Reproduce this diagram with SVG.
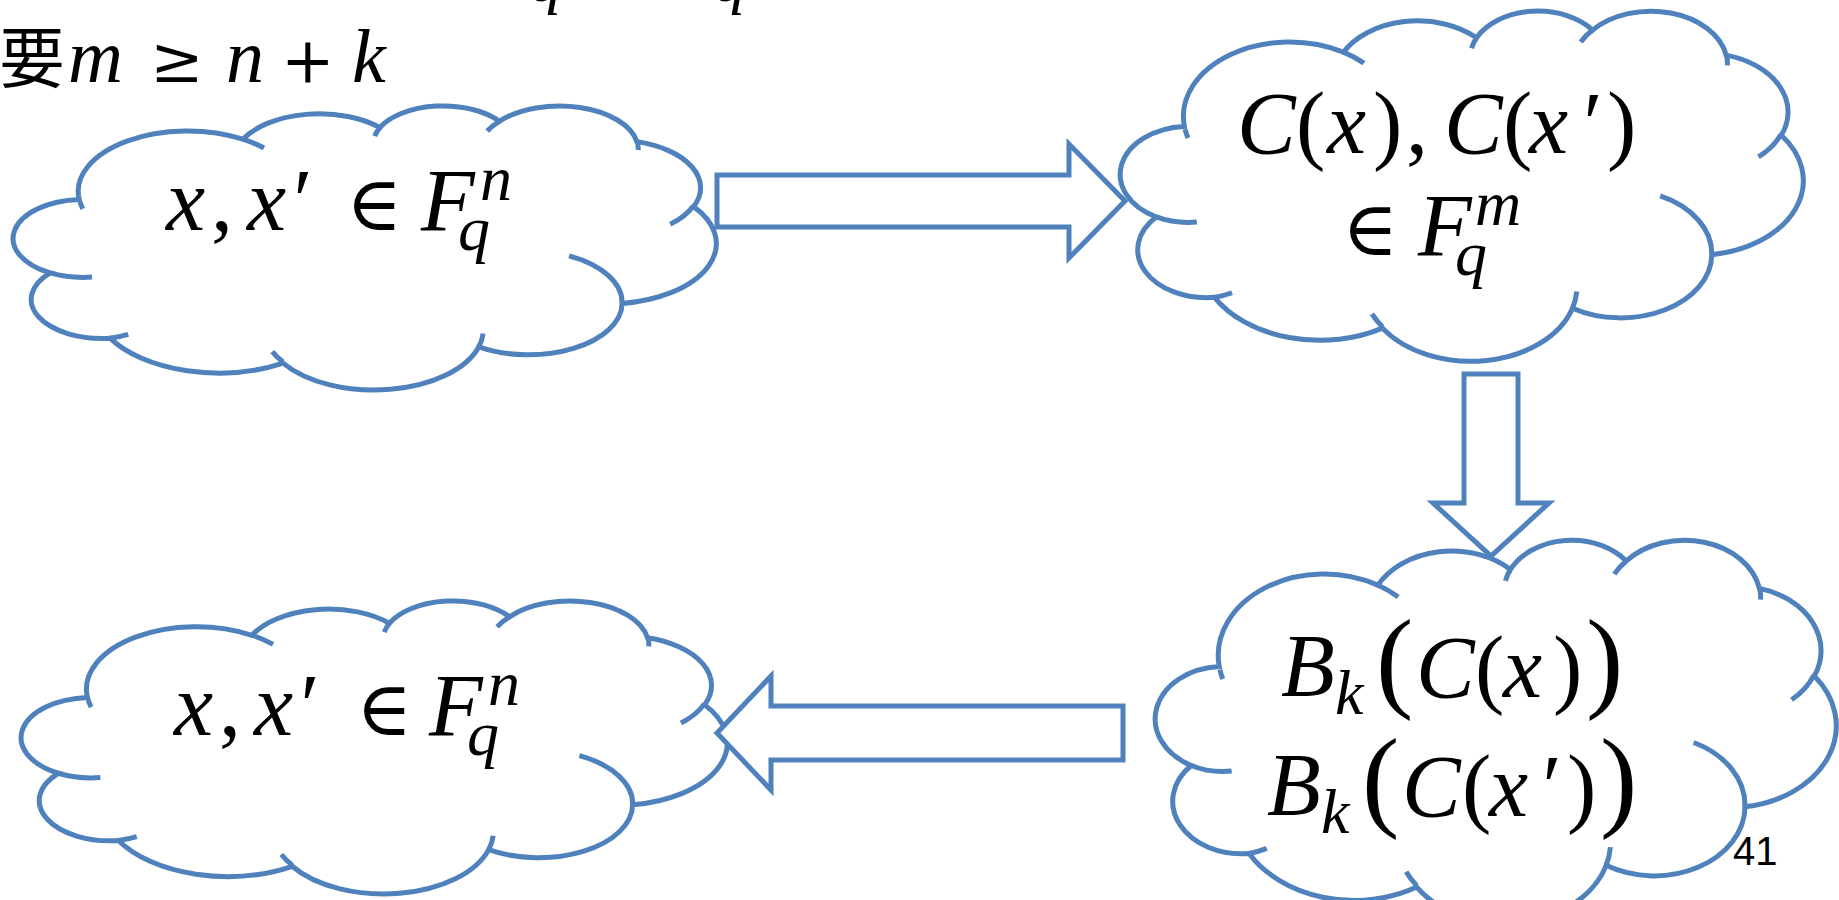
<svg xmlns="http://www.w3.org/2000/svg" width="1839" height="900" viewBox="0 0 1839 900">
<style>
.cl{fill:#fff;stroke:#4F81BD;stroke-width:5;vector-effect:non-scaling-stroke}
.ci{fill:none;stroke:#4F81BD;stroke-width:5;vector-effect:non-scaling-stroke}
.ar{fill:#fff;stroke:#4F81BD;stroke-width:5;stroke-linejoin:miter}
.m{font-family:"Liberation Serif",serif;font-style:italic;font-size:88px;fill:#000}
.u{font-style:normal}
.s{font-size:64px}
.e{font-family:"DejaVu Serif",serif;font-style:normal;font-size:76px}
.bp{font-style:normal;font-size:112px}
.h{font-family:"Liberation Serif",serif;font-style:italic;font-size:76px;fill:#000}
.op{font-family:"DejaVu Serif",serif;font-style:normal;font-size:64px}
.cjk{font-family:"Liberation Serif","Noto Sans CJK SC",sans-serif;font-style:normal;font-size:66px}
.pg{font-family:"Liberation Sans",Arial,sans-serif;font-size:40px;fill:#000}
</style>
<defs>
<g id="cloud">
<path class="cl" d="M3900 14370A6753 9190 0 0 1 14005 5201A5333 7267 0 0 1 22456 3430A4365 5945 0 0 1 29834 2479A4857 6595 0 0 1 38319 5574A5333 7273 0 0 1 41819 15457A6775 9220 0 0 1 37404 30198A5785 7867 0 0 1 28556 36808A6752 9215 0 0 1 16482 39262A7720 10543 0 0 1 5805 35466A4360 5918 0 0 1 2113 25545A4345 5945 0 0 1 3900 14370Z"/>
<path class="ci" d="M4693 26177A4345 5945 0 0 1 2113 25545M6928 34899A4360 5918 0 0 1 5805 35466M16478 39090A6752 9215 0 0 1 15813 37519M28827 34751A6752 9215 0 0 1 28556 36808M34129 22954A5785 7867 0 0 1 37404 30198M41798 15354A5333 7273 0 0 1 40372 18133M38324 5426A4857 6595 0 0 1 38396 6838M29078 3952A4857 6595 0 0 1 29834 2479M22141 4720A4365 5945 0 0 1 22456 3430M14000 5192A6753 9190 0 0 1 15305 6551M4127 15789A6753 9190 0 0 1 3941 14719"/>
</g>
</defs>
<rect width="1839" height="900" fill="#fff"/>
<g id="header">
<text class="h" style="font-size:64px" x="530" y="1">q</text>
<text class="h" style="font-size:64px" x="714" y="1">q</text>
<text class="h" y="82"><tspan class="cjk" x="-1">要</tspan><tspan x="68">m</tspan><tspan class="op" x="150">≥</tspan><tspan x="226">n</tspan><tspan class="op" x="281">+</tspan><tspan x="352">k</tspan></text>
</g>
<g id="node-source">
<use href="#cloud" transform="translate(16,105) scale(0.016204,0.006574)"/>
<text class="m"><tspan x="166" y="230">x</tspan><tspan class="u" x="211">,</tspan><tspan x="247">x</tspan><tspan x="288">′</tspan><tspan class="e" x="346">∈</tspan><tspan x="421">F</tspan><tspan class="s" x="458" y="250">q</tspan><tspan class="s" x="480" y="200">n</tspan></text>
</g>
<g id="node-codeword">
<use href="#cloud" transform="translate(1123,10) scale(0.015741,0.008102)"/>
<text class="m"><tspan x="1237" y="153">C</tspan><tspan class="u" x="1296">(</tspan><tspan x="1327">x</tspan><tspan class="u" x="1373">)</tspan><tspan class="u" x="1406">,</tspan><tspan x="1444">C</tspan><tspan class="u" x="1503">(</tspan><tspan x="1529">x</tspan><tspan x="1578">′</tspan><tspan class="u" x="1607">)</tspan></text>
<text class="m"><tspan class="e" x="1342" y="255">∈</tspan><tspan x="1418">F</tspan><tspan class="s" x="1455" y="275">q</tspan><tspan class="s" x="1475" y="225">m</tspan></text>
</g>
<g id="node-bounded">
<use href="#cloud" transform="translate(1158,539) scale(0.015694,0.008866)"/>
<text class="m"><tspan x="1281" y="695">B</tspan><tspan class="s" x="1335" y="714">k</tspan><tspan class="bp" x="1376" y="697">(</tspan><tspan x="1416">C</tspan><tspan class="u" x="1475">(</tspan><tspan x="1503">x</tspan><tspan class="u" x="1553">)</tspan><tspan class="bp" x="1586" y="697">)</tspan></text>
<text class="m"><tspan x="1267" y="814">B</tspan><tspan class="s" x="1321" y="833">k</tspan><tspan class="bp" x="1362" y="816">(</tspan><tspan x="1402">C</tspan><tspan class="u" x="1462">(</tspan><tspan x="1489">x</tspan><tspan x="1537">′</tspan><tspan class="u" x="1567">)</tspan><tspan class="bp" x="1600" y="816">)</tspan></text>
</g>
<g id="node-result">
<use href="#cloud" transform="translate(24,600) scale(0.016273,0.006782)"/>
<text class="m"><tspan x="174" y="735">x</tspan><tspan class="u" x="219">,</tspan><tspan x="254">x</tspan><tspan x="295">′</tspan><tspan class="e" x="356">∈</tspan><tspan x="429">F</tspan><tspan class="s" x="467" y="755">q</tspan><tspan class="s" x="488" y="705">n</tspan></text>
</g>
<g id="connectors">
<polygon class="ar" points="717,175 1069,175 1069,144 1125,201 1069,258 1069,227 717,227"/>
<polygon class="ar" points="1464,374 1518,374 1518,503 1549,503 1491,556 1433,503 1464,503"/>
<polygon class="ar" points="717,733 771,676 771,706 1123,706 1123,760 771,760 771,790"/>
</g>
<text id="page-number" class="pg" x="1733" y="865">41</text>
</svg>
